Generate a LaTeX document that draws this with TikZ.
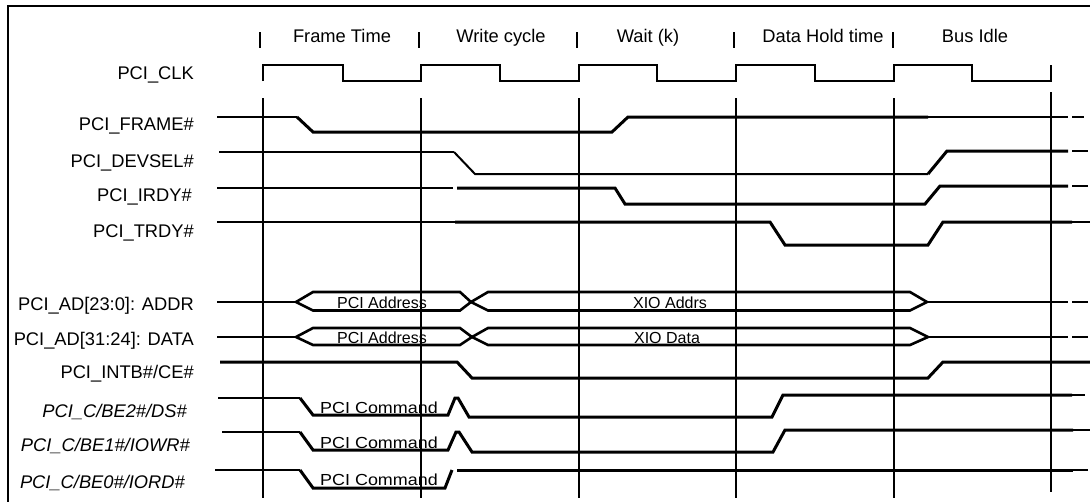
\documentclass[tikz,border=0pt]{standalone}
\usepackage{fontspec}
\setmainfont{Liberation Sans}
\begin{document}
\begin{tikzpicture}[x=1pt,y=-1pt,
  thinsig/.style={line width=1.5pt},
  thicksig/.style={line width=3pt},
  bus/.style={line width=2.6pt},
  gridline/.style={line width=1.8pt},
  lbl/.style={font=\fontsize{18.3}{20}\selectfont, anchor=base east, inner sep=0pt},
  ilbl/.style={font=\fontsize{18.3}{20}\selectfont\itshape, anchor=base east, inner sep=0pt},
  hdr/.style={font=\fontsize{18.3}{20}\selectfont, anchor=base, inner sep=0pt},
  btxt/.style={font=\fontsize{16}{18}\selectfont, anchor=base, inner sep=0pt},
]
\useasboundingbox (0,0) rectangle (1090,501);
\fill[white] (0,0) rectangle (1090,501);
\draw[line width=2.5pt] (1096,6) -- (8,6) -- (8,507);

% header
\foreach \x in {260,419,577,734,893} \draw[gridline] (\x,32) -- (\x,48);
\node[hdr] (h1) at (342,42) {Frame Time};
\node[hdr] (h2) at (501,42) {Write cycle};
\node[hdr] (h3) at (648,42) {Wait (k)};
\node[hdr] (h4) at (823,42) {Data Hold time};
\node[hdr] (h5) at (975,42) {Bus Idle};

% clock
\draw[gridline] (263,81) -- (263,65) -- (343,65) -- (343,81) -- (421,81) -- (421,65) -- (500,65) -- (500,81)
  -- (579,81) -- (579,65) -- (657,65) -- (657,81) -- (736,81) -- (736,65) -- (815,65) -- (815,81)
  -- (894,81) -- (894,65) -- (972,65) -- (972,81) -- (1051,81) -- (1051,65);

% vertical grid
\foreach \x in {263,421,579,736,894} \draw[gridline] (\x,98) -- (\x,498);
\draw[gridline] (1051,92) -- (1051,492);

% labels
\node[lbl] (lclk) at (194,79) {PCI\_CLK};
\node[lbl] (lframe) at (194,130) {PCI\_FRAME\#};
\node[lbl] (ldevsel) at (194,167) {PCI\_DEVSEL\#};
\node[lbl] (lirdy) at (192,201) {PCI\_IRDY\#};
\node[lbl] (ltrdy) at (194,237) {PCI\_TRDY\#};
\node[lbl] (laddr) at (194,310) {PCI\_AD[23:0]: ADDR};
\node[lbl] (ldata) at (194,345) {PCI\_AD[31:24]: DATA};
\node[lbl] (lintb) at (194,378) {PCI\_INTB\#/CE\#};
\node[ilbl] (lds) at (187,417) {PCI\_C/BE2\#/DS\#};
\node[ilbl] (liowr) at (190,451) {PCI\_C/BE1\#/IOWR\#};
\node[ilbl] (liord) at (185,488) {PCI\_C/BE0\#/IORD\#};

% FRAME#
\draw[thinsig] (217,117) -- (297,117);
\draw[thicksig] (297,117) -- (313,132) -- (612,132) -- (628,117) -- (928,117);
\draw[thinsig] (928,117) -- (1068,117);
\draw[thinsig] (1072,117) -- (1084,117);

% DEVSEL#
\draw[thinsig] (219,152) -- (454,152);
\draw[line width=2pt] (454,152) -- (475,174) -- (928,174);
\draw[thicksig] (928,174) -- (947,151) -- (1068,151);
\draw[thinsig] (1072,151) -- (1088,151);

% IRDY#
\draw[thinsig] (217,188) -- (453,188);
\draw[thicksig] (457,188) -- (615,188) -- (625,204) -- (925,204) -- (940,186) -- (1068,186);
\draw[thinsig] (1072,186) -- (1088,186);

% TRDY#
\draw[thinsig] (217,222) -- (455,222);
\draw[thicksig] (455,222) -- (770,222) -- (785,245) -- (928,245) -- (943,222) -- (1072,222);
\draw[thinsig] (1072,222) -- (1090,222);

% AD[23:0]
\draw[thinsig] (217,302) -- (296,302);
\draw[bus] (471,302) -- (460,292) -- (313,292) -- (296,302) -- (313,310.5) -- (460,310.5) -- cycle;
\draw[bus] (471,302) -- (488,292) -- (910,292) -- (927,302) -- (910,310.5) -- (488,310.5) -- cycle;
\draw[thinsig] (927,302) -- (1068,302);
\draw[thinsig] (1072,302) -- (1088,302);
\node[btxt] (t1) at (382,308) {PCI Address};
\node[btxt] (t2) at (670,308) {XIO Addrs};

% AD[31:24]
\draw[thinsig] (217,337) -- (296,337);
\draw[bus] (472,337) -- (460,328) -- (313,328) -- (296,337) -- (313,345) -- (460,345) -- cycle;
\draw[bus] (472,337) -- (488,328) -- (910,328) -- (928,337) -- (910,345) -- (488,345) -- cycle;
\draw[thinsig] (928,337) -- (1068,337);
\draw[thinsig] (1072,337) -- (1088,337);
\node[btxt] (t3) at (382,343) {PCI Address};
\node[btxt] (t4) at (667,343) {XIO Data};

% INTB#/CE#
\draw[thicksig] (220,362) -- (457,362) -- (472,378) -- (928,378) -- (943,362) -- (1090,362);

% C/BE2#
\draw[thinsig] (218,398) -- (300,398);
\draw[thicksig] (300,398) -- (313,415) -- (448,415) -- (455,398) -- (458,398) -- (469,417) -- (772,417) -- (783,395) -- (1072,395);
\draw[thinsig] (1072,395) -- (1085,395);
\node[btxt] (t5) at (379,413) {\scalebox{1.12}[1]{PCI Command}};

% C/BE1#
\draw[thinsig] (222,432) -- (300,432);
\draw[thicksig] (300,432) -- (313,450) -- (448,450) -- (456,432) -- (459,432) -- (472,452) -- (773,452) -- (785,430) -- (1073,430);
\draw[thinsig] (1073,430) -- (1090,430);
\node[btxt] (t6) at (379,448) {\scalebox{1.12}[1]{PCI Command}};

% C/BE0#
\draw[thinsig] (215,470) -- (300,470);
\draw[thicksig] (300,470) -- (313,488) -- (445,488) -- (452,470);
\draw[thicksig] (457,470) -- (1073,470);
\draw[thinsig] (1073,470) -- (1088,470);
\node[btxt] (t7) at (379,485) {\scalebox{1.12}[1]{PCI Command}};
\end{tikzpicture}
\end{document}
